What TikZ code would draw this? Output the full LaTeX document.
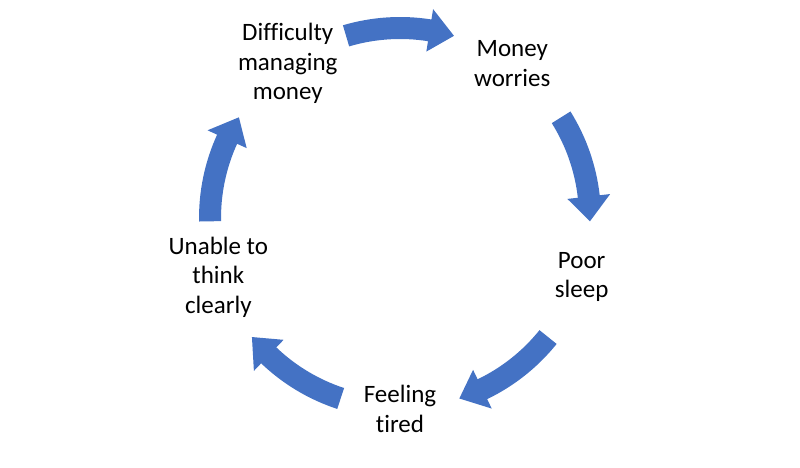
\documentclass[tikz,border=0pt]{standalone}
\usepackage{fontspec}
\setmainfont{Carlito}[Ligatures=CommonOff]
\definecolor{cycblue}{HTML}{4472C4}
\begin{document}
\begin{tikzpicture}[
  x=1pt, y=1pt,
  lbl/.style={align=center, font=\fontsize{25}{29.5}\selectfont, text=black},
  cyc/.pic={\fill[cycblue] (106.5:201pt) arc[start angle=106.5, end angle=81, radius=201pt]
    -- (81:211.5pt) -- (73.5:190pt) -- (81:168.5pt) -- (81:179pt)
    arc[start angle=81, end angle=106.5, radius=179pt] -- cycle;}
]
\fill[white] (0,0) rectangle (800,467);
\useasboundingbox (0,0) rectangle (800,467);
\coordinate (c) at (400,249);

\node[lbl] (dm) at ([shift={(126:191pt)}]c) {Difficulty\\managing\\money};
\node[lbl] (mw) at ([shift={(54:191pt)}]c) {Money\\worries};
\node[lbl] (ps) at ([shift={(-18:191pt)}]c) {Poor\\sleep};
\node[lbl] (ft) at ([shift={(-90:191pt)}]c) {Feeling\\tired};
\node[lbl] (ut) at ([shift={(198:191pt)}]c) {Unable to\\think\\clearly};

\pic[rotate=0] at (c) {cyc};
\pic[rotate=-74.5] at (c) {cyc};
\pic[rotate=-145.3] at (c) {cyc};
\pic[rotate=145.3] at (c) {cyc};
\pic[rotate=74.5] at (c) {cyc};
\end{tikzpicture}
\end{document}
